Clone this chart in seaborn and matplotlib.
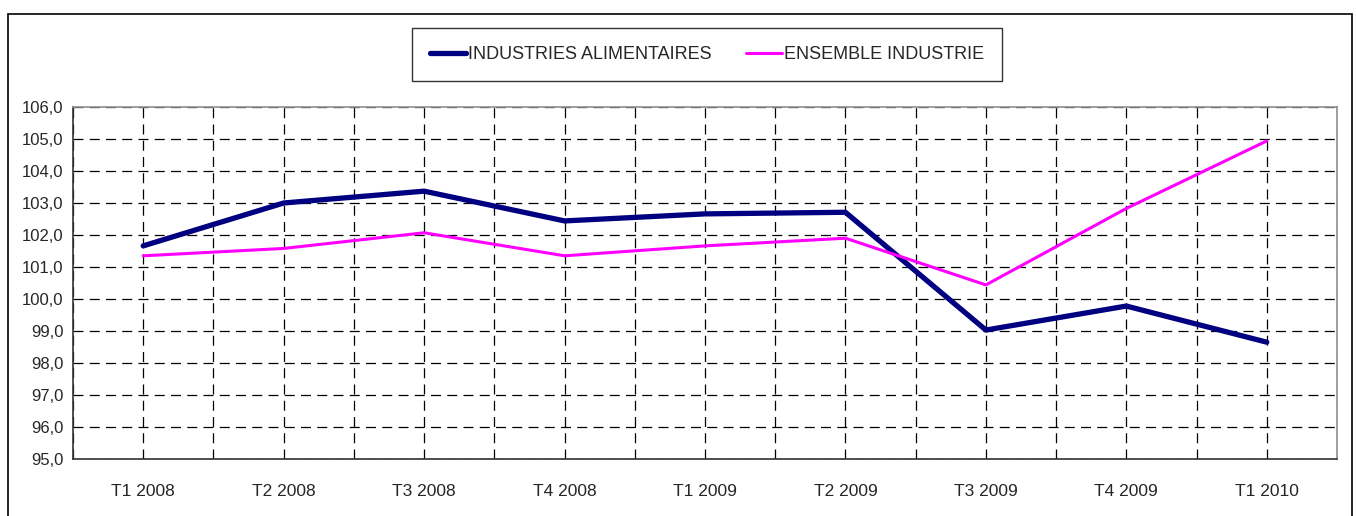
import matplotlib
matplotlib.use("Agg")
import matplotlib.pyplot as plt
import matplotlib.ticker as mticker
from matplotlib.patches import Rectangle
import pandas as pd
import seaborn as sns

quarters = ['T1 2008', 'T2 2008', 'T3 2008', 'T4 2008', 'T1 2009',
            'T2 2009', 'T3 2009', 'T4 2009', 'T1 2010']
alimentaires = [101.66, 103.0, 103.37, 102.44, 102.66, 102.71, 99.03, 99.78, 98.65]
ensemble = [101.35, 101.58, 102.07, 101.35, 101.66, 101.9, 100.44, 102.83, 104.94]
series_names = ['INDUSTRIES ALIMENTAIRES', 'ENSEMBLE INDUSTRIE']

df = pd.DataFrame({
    'x': list(range(len(quarters))) * 2,
    'value': alimentaires + ensemble,
    'serie': [series_names[0]] * len(quarters) + [series_names[1]] * len(quarters),
})

sns.set_style('white')
plt.rcParams['font.family'] = ['Liberation Sans', 'DejaVu Sans']

fig = plt.figure(figsize=(13.56, 5.16), dpi=100)
ax = fig.add_axes([73 / 1356, 57 / 516, 1264 / 1356, 352 / 516])

# outer chart frame
fig.patches.append(Rectangle((8 / 1356, -0.1), 1344 / 1356, 1.1 - 14 / 516,
                             transform=fig.transFigure, fill=False,
                             edgecolor='black', linewidth=1.2))

sns.lineplot(data=df, x='x', y='value', hue='serie', palette=['#000080', '#FF00FF'],
             size='serie', sizes=[3.8, 2.2], ax=ax, legend=False)

ax.set_xlim(-0.5, len(quarters) - 0.5)
ax.set_ylim(95, 106)
ax.yaxis.set_major_locator(mticker.MultipleLocator(1))
ax.yaxis.set_major_formatter(mticker.FuncFormatter(lambda v, p: f'{v:.1f}'.replace('.', ',')))
ax.set_xticks(range(len(quarters)))
ax.set_xticklabels(quarters)
ax.set_xticks([i - 0.5 for i in range(len(quarters) + 1)], minor=True)
ax.tick_params(axis='x', which='major', length=0, labelsize=12.5, pad=18)
ax.tick_params(axis='x', which='minor', length=5, width=1, color='black', direction='out')
ax.tick_params(axis='y', length=5, width=1, color='black', direction='out', labelsize=12, pad=2)
ax.set_xlabel('')
ax.set_ylabel('')

ax.grid(True, which='both', axis='x', color='black', linestyle=(0, (8, 5)), linewidth=0.9)
ax.grid(True, which='major', axis='y', color='black', linestyle=(0, (8, 5)), linewidth=0.9)
ax.set_axisbelow(True)

for s in ['top', 'right']:
    ax.spines[s].set_color('#909090')
    ax.spines[s].set_linewidth(1.2)
for s in ['left', 'bottom']:
    ax.spines[s].set_color('#333333')
    ax.spines[s].set_linewidth(1.2)

handles = [plt.Line2D([], [], color='#000080', linewidth=3.8),
           plt.Line2D([], [], color='#FF00FF', linewidth=2.2)]
leg = fig.legend(handles, series_names, loc='center', bbox_to_anchor=(707 / 1356, 1 - 54.5 / 516),
                 ncol=2, frameon=True, fancybox=False, fontsize=13, handlelength=2.0,
                 handletextpad=0.1, columnspacing=1.9, borderpad=1.0)
leg.get_frame().set_edgecolor('black')
leg.get_frame().set_linewidth(1.0)

fig.savefig('out.png', dpi=100)
